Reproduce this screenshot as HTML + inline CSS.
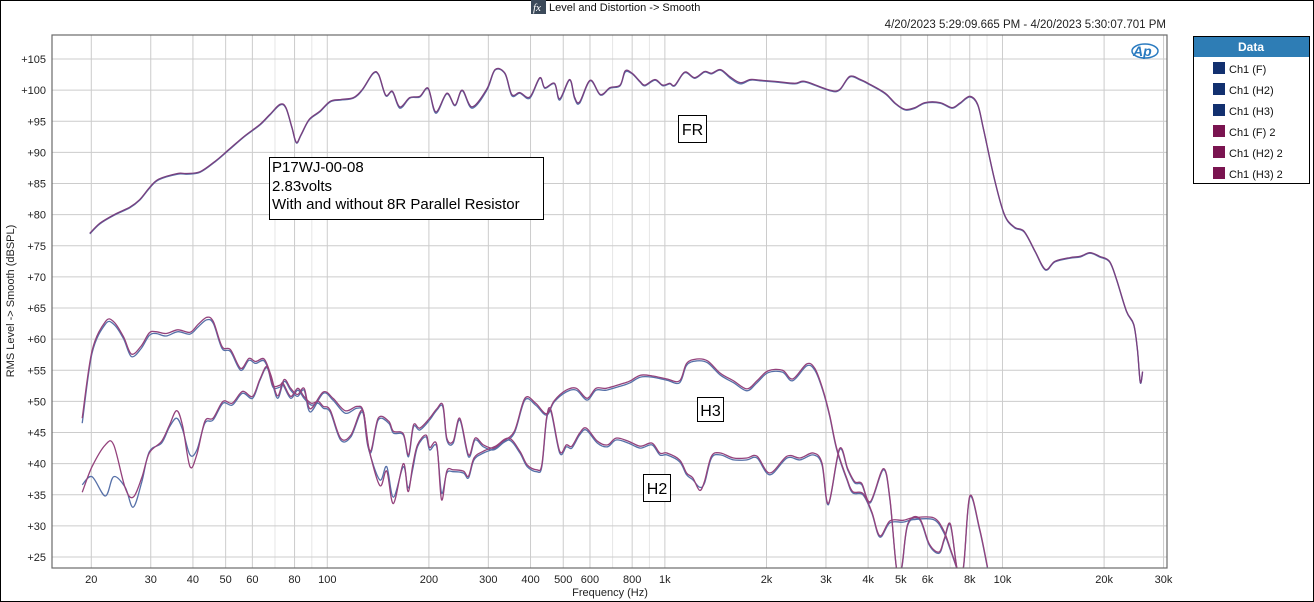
<!DOCTYPE html>
<html><head><meta charset="utf-8">
<style>
html,body{margin:0;padding:0;background:#fff;}
body{width:1314px;height:602px;overflow:hidden;position:relative;font-family:"Liberation Sans",Arial,sans-serif;}
#frame{position:absolute;left:0;top:0;width:1312px;height:600px;border:1px solid #000;}
svg{position:absolute;left:0;top:0;}
</style></head>
<body>
<div id="frame"></div>
<svg id="chart" width="1314" height="602" viewBox="0 0 1314 602">
  <g>
    <rect x="531" y="0" width="15" height="14" fill="#3c4a5a"/>
    <text x="533" y="11" font-size="11" font-style="italic" font-family="Liberation Serif, serif" fill="#fff">fx</text>
    <text x="549" y="11" font-size="11" fill="#111">Level and Distortion -&gt; Smooth</text>
  </g>
  <text x="1166" y="28" font-size="11.5" text-anchor="end" fill="#222">4/20/2023 5:29:09.665 PM - 4/20/2023 5:30:07.701 PM</text>
  <g id="grid"></g>
  <g id="series"></g>
  <rect x="52" y="35" width="1115" height="533" fill="none" stroke="#6a6a6a" stroke-width="1.2"/>
  <g id="yticks"></g>
  <g id="xticks"></g>
  <text transform="translate(14,301) rotate(-90)" font-size="11" text-anchor="middle" fill="#222">RMS Level -&gt; Smooth (dBSPL)</text>
  <text x="610" y="596" font-size="11" text-anchor="middle" fill="#222">Frequency (Hz)</text>
  <g>
    <ellipse cx="1145" cy="51" rx="13" ry="7" fill="none" stroke="#2a7bc0" stroke-width="1.5"/>
    <text x="1133" y="56" font-size="14" font-weight="bold" font-style="italic" fill="#2a7bc0">Ap</text>
  </g>
  <g>
    <rect x="269.5" y="157.5" width="274" height="62" fill="#fff" stroke="#000"/>
    <text x="272" y="172" font-size="15" fill="#000">P17WJ-00-08</text>
    <text x="272" y="191" font-size="15" fill="#000">2.83volts</text>
    <text x="272" y="209" font-size="15" fill="#000">With and without 8R Parallel Resistor</text>
  </g>
  <g>
    <rect x="678.5" y="115.5" width="28" height="27" fill="#fff" stroke="#000"/>
    <text x="692.5" y="135" font-size="16" text-anchor="middle" fill="#000">FR</text>
  </g>
  <g>
    <rect x="697.5" y="397.5" width="26" height="24" fill="#fff" stroke="#000"/>
    <text x="710.5" y="416" font-size="16" text-anchor="middle" fill="#000">H3</text>
  </g>
  <g>
    <rect x="643.5" y="474.5" width="27" height="27" fill="#fff" stroke="#000"/>
    <text x="657" y="494" font-size="16" text-anchor="middle" fill="#000">H2</text>
  </g>
  <g>
    <rect x="1193.5" y="36.5" width="116" height="147" fill="#fff" stroke="#000"/>
    <rect x="1194" y="37" width="115" height="20" fill="#2e7db5"/>
    <text x="1251" y="51" font-size="12" font-weight="bold" fill="#fff" text-anchor="middle">Data</text>
    <g id="legendItems"></g>
  </g>
</svg>
<script>
// ---- data ----
const xTickValues = [20,30,40,50,60,80,100,200,300,400,500,600,800,1000,2000,3000,4000,5000,6000,8000,10000,20000,30000];
const xTickLabels = ["20","30","40","50","60","80","100","200","300","400","500","600","800","1k","2k","3k","4k","5k","6k","8k","10k","20k","30k"];
const yTickValues = [25,30,35,40,45,50,55,60,65,70,75,80,85,90,95,100,105];
const legendLabels = ["Ch1 (F)","Ch1 (H2)","Ch1 (H3)","Ch1 (F) 2","Ch1 (H2) 2","Ch1 (H3) 2"];

const frFreq = [19.8,21.2,23.4,26,27.8,29.8,31.7,36,38.4,42,46.6,51.2,56.8,63.2,67.6,72.4,75.4,78.6,81,83.7,88.4,95,102,109.5,119.5,127,136.5,142,149,156,164,175.5,188,199,209.6,226,239,251,268.6,297,314,336,352,372,398,426,441,471,488,522,540,559,601,644,688,737,763,800,844,873,935,986,1034,1070,1145,1226,1311,1374,1461,1563,1672,1791,1915,2121,2427,2600,3079,3292,3526,3795,4061,4495,4815,5147,5508,5897,6531,7079,7472,8000,8444,8795,9470,10136,10850,11600,12500,13400,14300,15849,17000,18160,19400,20750,21780,23300,24470,25100,25600,26000];
const frDb1 = [76.9,78.5,79.9,81.1,82.3,84.3,85.6,86.5,86.5,86.8,88.5,90.4,92.5,94.4,96.0,97.6,97.1,93.9,91.5,92.8,95.2,96.5,98.1,98.4,98.7,100.0,102.6,102.4,99.1,99.7,97.1,98.7,98.9,100.2,96.3,99.4,97.5,99.9,97.1,100.0,103.2,102.6,99.1,99.5,98.7,101.9,100.3,101.0,98.4,101.6,98.7,97.9,101.5,99.2,100.3,100.7,102.9,102.6,101.3,100.7,101.6,100.7,101.0,100.7,102.8,101.9,102.9,102.6,103.2,101.9,101.0,101.6,101.5,101.3,101.0,101.3,99.9,100.0,102.1,101.6,100.8,99.4,97.8,96.8,97.1,97.9,97.9,97.1,97.8,98.9,97.6,93.6,85.6,79.9,77.9,77.2,74.0,71.1,72.4,73.0,73.2,73.8,73.2,72.4,69.5,64.4,62.3,58.3,53.0,54.7];
const frDb2 = [77.0,78.6,80.0,81.2,82.4,84.4,85.7,86.6,86.6,86.9,88.6,90.5,92.6,94.5,96.1,97.7,97.2,94.0,91.6,92.9,95.3,96.6,98.2,98.5,98.8,100.1,102.7,102.5,99.2,99.8,97.3,98.8,99.0,100.3,96.5,99.5,97.6,100.0,97.3,100.2,103.3,102.7,99.3,99.6,98.9,102.0,100.4,101.1,98.6,101.7,98.9,98.1,101.6,99.3,100.4,100.8,103.1,102.7,101.4,100.8,101.7,100.8,101.1,100.8,102.9,102.0,103.0,102.7,103.3,102.1,101.2,101.7,101.6,101.4,101.1,101.4,100.0,100.1,102.2,101.7,100.9,99.5,97.9,96.9,97.2,98.0,98.0,97.2,97.9,99.0,97.7,93.7,85.7,80.0,78.0,77.3,74.1,71.2,72.5,73.1,73.3,73.9,73.3,72.5,69.6,64.5,62.4,58.4,53.1,54.8];

const h3Freq = [18.8,20.1,22,23.3,24.9,26.3,28.1,29.7,31.1,33.3,36.1,39.2,41.5,44,46,48.8,51.7,55.4,58.6,61.3,65,68,71.2,74.5,77.9,81.6,85.4,89,97.3,104,113,122.5,128,134,141.5,152,157,168,174,180,188,201,211,220,226,236,247,262,274,290,311,331,358,385,414,446,470,510,547,588,625,670,754,790,846,916,1014,1106,1160,1243,1338,1461,1597,1750,1874,2020,2230,2390,2630,2780,2935,3080,3230,3460,3600,3860,4100,4330,4640,5080,5440,6250,6690,7010,7350];
const h3Db1 = [46.5,57.7,62.4,62.4,60.1,57.2,58.5,60.6,60.9,60.5,61.2,60.8,62.0,63.1,62.5,58.5,58.0,55.0,56.6,56.1,56.5,54.0,50.5,53.2,51.8,50.8,51.8,48.3,51.3,50.2,48.1,48.9,48.1,41.7,47.0,46.5,44.9,44.6,41.1,45.9,45.4,47.0,48.6,49.1,43.8,43.3,47.0,41.1,43.8,42.7,42.2,43.3,44.9,50.2,49.4,47.8,49.9,51.5,51.8,50.2,51.8,51.8,52.6,53.0,53.9,53.9,53.4,53.0,55.8,56.5,56.2,54.2,53.0,51.7,53.0,54.6,54.7,53.3,55.7,55.0,51.8,47.5,42.2,37.4,35.3,35.0,32.1,28.2,30.5,30.6,31.0,31.0,29.0,26.1,22.9];
const h3Db2 = [47.3,58.1,62.8,62.8,60.4,57.6,58.9,61.0,61.2,60.9,61.5,61.1,62.4,63.5,62.8,58.8,58.3,55.3,56.9,56.4,56.8,54.3,50.9,53.5,52.1,51.1,52.1,48.8,51.5,50.5,48.5,49.2,48.3,42.0,47.3,46.8,45.2,44.8,41.4,46.2,45.7,47.3,48.8,49.4,44.1,43.6,47.3,41.4,44.1,43.0,42.5,43.6,45.2,50.5,49.7,48.0,50.1,51.8,52.1,50.5,52.1,52.1,52.9,53.3,54.2,54.1,53.6,53.3,56.1,56.8,56.5,54.5,53.3,52.0,53.3,54.9,55.0,53.6,56.0,55.3,52.0,47.7,42.4,37.6,35.5,35.2,32.3,28.4,30.8,30.9,31.3,31.3,29.3,26.3,23.0];

const h2Freq = [18.8,20.1,22,23.3,25.2,26.6,28.2,29.7,32.3,34.1,35.8,37.3,39.2,41.1,43.4,45.9,49.1,52.3,56.1,60.1,63.2,66.3,69,72.4,74,77.9,81.8,85.3,89.6,94,97.3,102,109.5,117.5,127,132,143,150,157,168,173.5,179,185,196,201,211,218,226,236,253,262,272,290,315,345,372,391,417,432,446,460,488,511,530,559,585,631,676,717,780,846,916,966,1014,1106,1160,1210,1268,1311,1374,1461,1597,1750,1874,2046,2300,2512,2750,2920,3050,3290,3480,3650,3830,4060,4440,4640,4860,5030,5240,5680,6070,6490,6720,7010,7350,7660,8000,8560,9030];
const h2Db1 = [36.6,37.9,34.8,37.9,36.2,33.0,37.0,41.9,43.3,45.9,47.3,45.4,41.4,42.2,46.5,47.0,49.7,49.4,51.3,50.5,53.4,55.4,52.3,52.3,52.6,50.5,51.8,50.5,49.4,49.7,48.9,48.3,43.8,44.3,48.3,42.7,37.4,39.5,34.6,39.5,36.1,39.0,42.7,44.3,42.2,42.7,35.3,38.5,38.7,38.5,37.7,40.6,41.7,42.5,43.8,41.7,39.5,38.7,39.5,47.0,48.3,41.7,42.7,42.5,44.6,45.4,43.3,42.7,43.8,43.3,42.5,43.0,41.4,41.4,40.3,38.2,37.4,36.2,36.9,40.9,41.4,40.6,40.6,40.9,38.2,40.9,40.6,41.4,39.8,33.4,42.2,39.0,36.9,36.6,33.7,39.0,34.2,22.9,23.2,30.1,31.0,26.9,25.6,27.7,30.1,22.9,23.2,34.6,29.3,23.2];
const h2Db2 = [35.4,39.5,43.0,43.0,36.1,34.6,37.7,41.7,43.6,46.2,48.5,46.0,39.5,41.5,46.8,47.3,50.0,49.7,51.6,50.8,53.6,55.6,52.6,52.6,52.9,50.8,52.1,50.8,49.7,50.0,49.2,48.6,44.1,44.6,48.6,43.0,36.5,38.8,33.6,40.0,35.5,39.6,43.0,44.6,42.6,43.0,34.2,38.8,39.0,38.8,38.0,40.9,42.0,42.8,44.1,42.0,39.8,39.0,39.8,47.3,48.6,42.0,43.0,42.8,44.9,45.7,43.6,43.0,44.1,43.6,42.8,43.3,41.7,41.7,40.6,38.5,37.7,35.7,37.2,41.2,41.7,40.9,40.9,41.2,38.5,41.2,40.9,41.7,40.1,33.6,42.4,39.2,37.1,36.8,33.9,39.2,34.4,23.0,23.4,30.3,31.2,27.1,25.8,27.9,30.3,23.0,23.4,34.8,29.5,23.4];

// ---- axes ----
const PL=52, PR=1167, PT=35, PB=568;
const X20=91.3, DEC=337.6;
function xScale(f){ return X20 + DEC*Math.log10(f/20); }
function yScale(v){ return 59 + (105 - v)*6.225; }
const NS="http://www.w3.org/2000/svg";
function mk(tag, attrs, parent){ const e=document.createElementNS(NS,tag); for(const k in attrs) e.setAttribute(k,attrs[k]); parent.appendChild(e); return e; }

const grid=document.getElementById('grid');
[10,100,1000,10000].forEach(function(dec){
  for(let m=1;m<=9;m++){
    const f=dec*m;
    if(f<20||f>30000) continue;
    const x=xScale(f);
    if(x<PL||x>PR) continue;
    const light=(m===7||m===9);
    const ln=mk('line',{x1:x,x2:x,y1:PT,y2:PB,stroke:light?'#e6e6e6':'#cccccc','stroke-width':1},grid);
    
    
  }
});
yTickValues.forEach(function(v){
  const y=yScale(v);
  const ln=mk('line',{x1:PL,x2:PR,y1:y,y2:y,stroke:'#cccccc','stroke-width':1},grid);
  
  
  const t=mk('text',{x:46,y:y+4,'font-size':11,'text-anchor':'end',fill:'#222'},document.getElementById('yticks'));
  t.textContent='+'+v;
  
  
});
xTickValues.forEach(function(f,i){
  const t=mk('text',{x:xScale(f),y:583,'font-size':11,'text-anchor':'middle',fill:'#222'},document.getElementById('xticks'));
  t.textContent=xTickLabels[i];
  
  
});

const defs=mk('defs',{},document.getElementById('chart'));
const cp=mk('clipPath',{id:'plotclip'},defs);
mk('rect',{x:PL,y:PT,width:PR-PL,height:PB-PT},cp);

const layer=document.getElementById('series');
layer.setAttribute('clip-path','url(#plotclip)');
function drawLine(freqs, vals, color, name){
  const pts=freqs.map(function(f,i){ return [xScale(f), yScale(vals[i])]; });
  let d='M'+pts[0][0].toFixed(1)+','+pts[0][1].toFixed(1);
  for(let i=0;i<pts.length-1;i++){
    const p0=pts[i>0?i-1:i], p1=pts[i], p2=pts[i+1], p3=pts[i+2<pts.length?i+2:i+1];
    const c1x=p1[0]+(p2[0]-p0[0])/6, c1y=p1[1]+(p2[1]-p0[1])/6;
    const c2x=p2[0]-(p3[0]-p1[0])/6, c2y=p2[1]-(p3[1]-p1[1])/6;
    d+='C'+c1x.toFixed(1)+','+c1y.toFixed(1)+' '+c2x.toFixed(1)+','+c2y.toFixed(1)+' '+p2[0].toFixed(1)+','+p2[1].toFixed(1);
  }
  const p=mk('path',{d:d,fill:'none',stroke:color,'stroke-width':1.3,'stroke-linejoin':'round'},layer);
  
  
}
const BLUE='#5670a8', MAG='#94427c';
drawLine(h2Freq,h2Db1,BLUE,'h2-series-1');
drawLine(h3Freq,h3Db1,BLUE,'h3-series-1');
drawLine(frFreq,frDb1,BLUE,'fr-series-1');
drawLine(h2Freq,h2Db2,MAG,'h2-series-2');
drawLine(h3Freq,h3Db2,MAG,'h3-series-2');
drawLine(frFreq,frDb2,'#7a3f7e','fr-series-2');

const lg=document.getElementById('legendItems');
legendLabels.forEach(function(lbl,i){
  const y=62+i*21;
  const sw=mk('rect',{x:1213,y:y,width:12,height:12,fill:i<3?'#12306f':'#7a1450'},lg);
  
  
  const t=mk('text',{x:1229,y:y+11,'font-size':11,fill:'#111'},lg);
  t.textContent=lbl;
  
  
});
</script>
</body></html>
